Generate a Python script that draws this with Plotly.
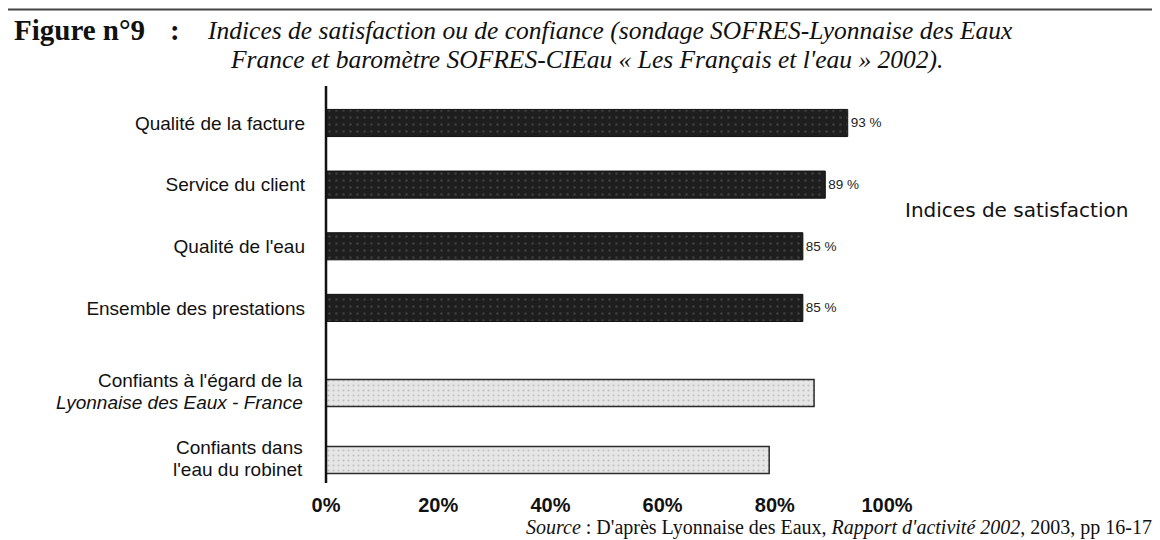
import plotly.graph_objects as go

# ---- data ----
sat_labels = ["Qualité de la facture", "Service du client", "Qualité de l'eau", "Ensemble des prestations"]
sat_values = [93, 89, 85, 85]
conf_labels = ["Confiants à l'égard de la<br><i>Lyonnaise des Eaux - France</i>",
               "Confiants dans<br>l'eau du robinet"]
conf_values = [87, 79]
x_tickvals = [0, 20, 40, 60, 80, 100]
x_ticktext = ["0%", "20%", "40%", "60%", "80%", "100%"]

W, H = 1160, 540
PL, PR, PT, PB = 318, 879, 78, 475  # plot area in px


def px_x(px):
    return (px - PL) / (PR - PL)


def px_y(py):
    return (PB - py) / (PB - PT)


split = px_y(340)

fig = go.Figure()
fig.add_trace(go.Bar(
    y=sat_labels, x=sat_values, orientation="h",
    xaxis="x", yaxis="y",
    marker=dict(color="#1e1e1e", line=dict(color="#111111", width=1),
                pattern=dict(shape=".", fgcolor="#5a5a5a", size=7, solidity=0.12)),
    width=0.44,
    text=[f"{v} %" for v in sat_values], textposition="outside",
    textfont=dict(family="Liberation Sans", size=13.5, color="#222222"),
    cliponaxis=False, constraintext="none",
    hoverinfo="x+y", showlegend=False,
))
fig.add_trace(go.Bar(
    y=conf_labels, x=conf_values, orientation="h",
    xaxis="x2", yaxis="y2",
    marker=dict(color="#e6e6e6", line=dict(color="#2a2a2a", width=1.5),
                pattern=dict(shape=".", fgcolor="#9a9a9a", size=5, solidity=0.15)),
    width=0.40,
    hoverinfo="x+y", showlegend=False,
))

ylab_font = dict(family="Liberation Sans", size=19, color="#111111")
fig.update_layout(
    width=W, height=H,
    margin=dict(l=PL, r=W - PR, t=PT, b=H - PB, pad=0),
    paper_bgcolor="white", plot_bgcolor="white",
    xaxis=dict(domain=[0, 1], range=[0, 100], anchor="y", showticklabels=False,
               showgrid=False, zeroline=False, showline=False, ticks=""),
    xaxis2=dict(domain=[0, 1], range=[0, 100], anchor="y2", matches="x",
                tickvals=x_tickvals, ticktext=x_ticktext, showgrid=False,
                zeroline=False, showline=False, ticks="", ticklabelstandoff=8,
                tickfont=dict(family="Liberation Sans", size=20, color="#111111", weight="bold")),
    yaxis=dict(domain=[split, 1], type="category", range=[3.65, -0.6],
               anchor="x", showgrid=False, zeroline=False, showline=False, ticks="",
               ticklabelstandoff=20, tickfont=ylab_font),
    yaxis2=dict(domain=[0, split], type="category", range=[1.343, -0.672],
                anchor="x2", showgrid=False, zeroline=False, showline=False, ticks="",
                showticklabels=False),
)

# vertical axis line (continuous through both groups)
fig.add_shape(type="line", xref="paper", yref="paper", x0=0, x1=0, y0=0, y1=1,
              line=dict(color="#111111", width=2.5))
# scan border line at the top of the page
fig.add_shape(type="line", xref="paper", yref="paper", x0=px_x(0), x1=px_x(W),
              y0=px_y(1.5), y1=px_y(1.5), line=dict(color="#444444", width=2))

ann = []
# two-line category labels of the confidence group, set tightly like the original
for lab in conf_labels:
    lines = lab.split("<br>")
    for k, line in enumerate(lines):
        ann.append(dict(text=line, x=0, y=lab, xref="x2", yref="y2",
                        xanchor="right", yanchor="middle", xshift=-21,
                        yshift=13 - 22 * k, font=ylab_font))

title_bold = dict(family="Liberation Serif", size=29, color="#111111")
title_it = dict(family="Liberation Serif", size=25.5, color="#111111")
ann.append(dict(text="<b>Figure n°9</b>", x=px_x(4), y=px_y(22), xanchor="left", yanchor="middle",
                xref="paper", yref="paper", font=title_bold))
ann.append(dict(text="<b>:</b>", x=px_x(160), y=px_y(22), xanchor="left", yanchor="middle",
                xref="paper", yref="paper", font=title_bold))
ann.append(dict(text="<i>Indices de satisfaction ou de confiance (sondage SOFRES-Lyonnaise des Eaux</i>",
                x=px_x(197), y=px_y(22), xanchor="left", yanchor="middle",
                xref="paper", yref="paper", font=title_it))
ann.append(dict(text="<i>France et baromètre SOFRES-CIEau « Les Français et l'eau » 2002).</i>",
                x=px_x(220), y=px_y(52), xanchor="left", yanchor="middle",
                xref="paper", yref="paper", font=title_it))
ann.append(dict(text="Indices de satisfaction", x=px_x(895), y=px_y(202), xanchor="left", yanchor="middle",
                xref="paper", yref="paper",
                font=dict(family="DejaVu Sans", size=20, color="#111111")))
ann.append(dict(text="<i>Source</i> : D'après Lyonnaise des Eaux, <i>Rapport d'activité 2002</i>, 2003, pp 16-17",
                x=px_x(1146), y=px_y(519), xanchor="right", yanchor="middle",
                xref="paper", yref="paper",
                font=dict(family="Liberation Serif", size=20, color="#111111")))
for a in ann:
    a.update(showarrow=False)
fig.update_layout(annotations=ann)

fig.write_html("out.html")
